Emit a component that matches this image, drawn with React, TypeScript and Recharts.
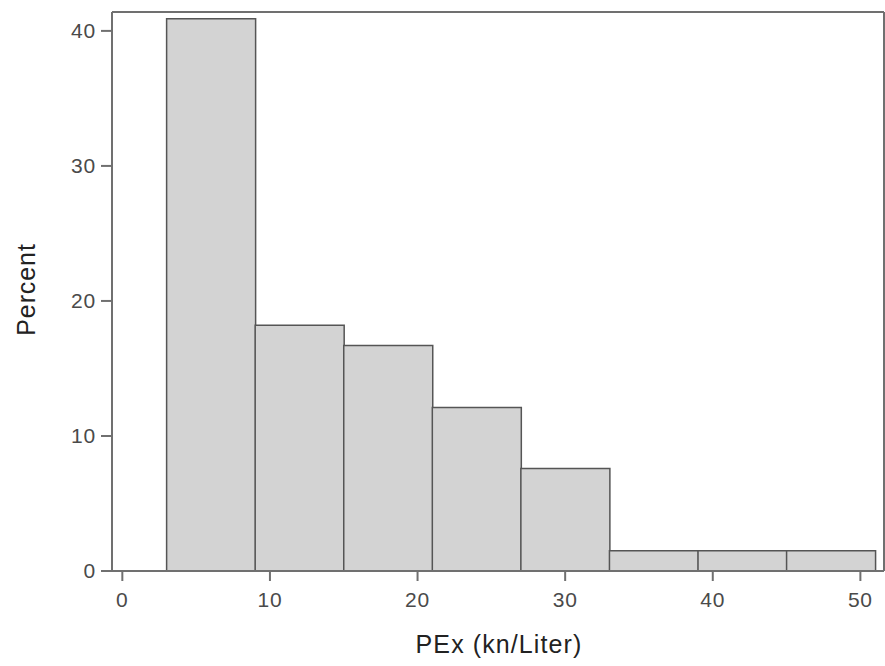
import { ComposedChart, Bar, XAxis, YAxis, Label, ReferenceLine } from 'recharts';

// histogram bins (PEx, kn/Liter), width 6
const binStarts = [3, 9, 15, 21, 27, 33, 39, 45];
const binWidth = 6;
const percents = [40.9, 18.2, 16.7, 12.1, 7.6, 1.5, 1.5, 1.5];

const xTicks = [0, 10, 20, 30, 40, 50];
const yTicks = [0, 10, 20, 30, 40];

const data = binStarts.map((s, i) => ({ mid: s + binWidth / 2, pct: percents[i] }));

const FONT = '"Liberation Sans", Arial, sans-serif';
const AXIS = '#707070';
const TICK_TXT = '#4a4a4a';
const LABEL_TXT = '#222';

const xDomain: [number, number] = [-0.7, 51.6];
const yDomain: [number, number] = [0, 41.4];

const tickStyle = { fill: TICK_TXT, fontSize: 21, fontFamily: FONT, letterSpacing: 0.8 };

export default function App() {
  return (
    <div style={{ position: 'absolute', left: 0, top: 0, background: '#fff', fontFamily: FONT }}>
      <ComposedChart
        width={885}
        height={666}
        data={data}
        margin={{ top: 12, right: 1, left: 0, bottom: 0 }}
        barCategoryGap={0}
        barGap={0}
      >
        <XAxis
          dataKey="mid"
          type="number"
          domain={xDomain}
          allowDataOverflow
          ticks={xTicks}
          height={95}
          tickSize={10}
          tickMargin={11}
          stroke={AXIS}
          strokeWidth={2}
          tick={tickStyle}
        >
          <Label
            content={({ viewBox }: any) => (
              <text
                x={viewBox.x + viewBox.width / 2 + 1}
                y={viewBox.y + 82}
                textAnchor="middle"
                fill={LABEL_TXT}
                fontSize={25}
                letterSpacing={1.1}
                fontFamily={FONT}
              >
                PEx (kn/Liter)
              </text>
            )}
          />
        </XAxis>
        <YAxis
          type="number"
          domain={yDomain}
          allowDataOverflow
          ticks={yTicks}
          width={112}
          tickSize={11}
          tickMargin={5}
          stroke={AXIS}
          strokeWidth={2}
          tick={tickStyle}
        >
          <Label
            content={({ viewBox }: any) => {
              const cx = viewBox.x + 35;
              const cy = viewBox.y + viewBox.height / 2 - 2;
              return (
                <text
                  x={cx}
                  y={cy}
                  transform={`rotate(-90 ${cx} ${cy})`}
                  textAnchor="middle"
                  fill={LABEL_TXT}
                  fontSize={25}
                  letterSpacing={0.9}
                  fontFamily={FONT}
                >
                  Percent
                </text>
              );
            }}
          />
        </YAxis>
        {/* top and right frame lines */}
        <ReferenceLine y={yDomain[1]} stroke={AXIS} strokeWidth={2} ifOverflow="visible" />
        <ReferenceLine x={xDomain[1]} stroke={AXIS} strokeWidth={2} ifOverflow="visible" />
        <Bar
          dataKey="pct"
          fill="#d3d3d3"
          stroke="#555"
          strokeWidth={1.5}
          isAnimationActive={false}
        />
      </ComposedChart>
    </div>
  );
}
